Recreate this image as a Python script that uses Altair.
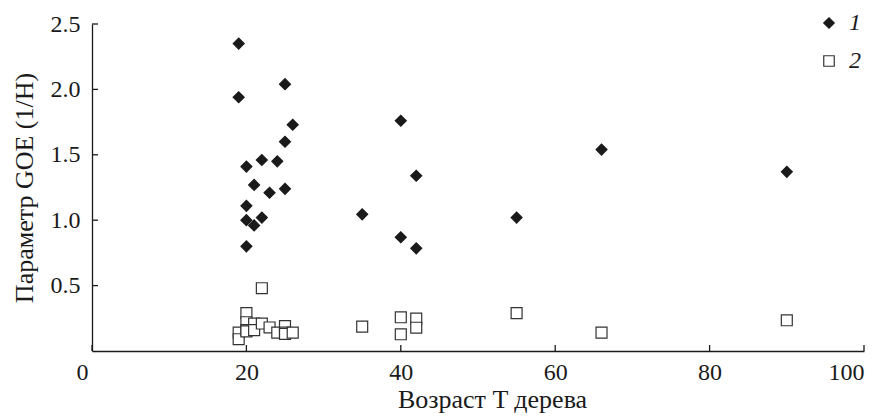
import altair as alt
import pandas as pd

# Series 1 (filled diamonds)
ages1 = [19, 19, 20, 20, 20, 20, 21, 21, 22, 22, 23, 24, 25, 25, 25, 26, 35, 40, 40, 42, 42, 55, 66, 90]
goe1 = [2.35, 1.94, 1.41, 1.11, 1.00, 0.80, 1.27, 0.96, 1.46, 1.02, 1.21, 1.45, 2.04, 1.60, 1.24, 1.73,
        1.045, 1.76, 0.87, 1.34, 0.785, 1.02, 1.54, 1.37]
# Series 2 (open squares)
ages2 = [19, 19, 20, 20, 20, 20, 21, 21, 22, 22, 23, 24, 25, 25, 25, 26, 35, 40, 40, 42, 42, 55, 66, 90]
goe2 = [0.14, 0.09, 0.29, 0.22, 0.16, 0.15, 0.21, 0.16, 0.48, 0.21, 0.18, 0.14, 0.19, 0.14, 0.13, 0.14,
        0.186, 0.258, 0.128, 0.247, 0.178, 0.29, 0.14, 0.235]

series_names = ["1", "2"]
x_ticks = [0, 20, 40, 60, 80, 100]
y_ticks = [0.5, 1.0, 1.5, 2.0, 2.5]

df = pd.DataFrame({
    "age": ages1 + ages2,
    "goe": goe1 + goe2,
    "series": [series_names[0]] * len(ages1) + [series_names[1]] * len(ages2),
})

FONT = "Liberation Serif"
INK = "#1a1a1a"
W, H = 772, 327

xscale = alt.Scale(domain=[0, 100], nice=False, zero=True)
yscale = alt.Scale(domain=[0, 2.5], nice=False, zero=True)

leg = alt.Legend(
    orient="none", legendX=725, legendY=-13, title=None,
    labelFont=FONT, labelFontStyle="italic", labelFontSize=24, labelColor=INK,
    symbolSize=110, symbolStrokeWidth=1.2, rowPadding=14, labelOffset=8,
)

points = alt.Chart(df).mark_point(filled=True, size=120, strokeWidth=1.2, opacity=1).encode(
    x=alt.X("age:Q", scale=xscale,
            axis=alt.Axis(values=x_ticks, title="Возраст T дерева", labelPadding=9, titlePadding=2,
                          format="d", titleX=400,
                          labelOffset=alt.ExprRef("datum.value == 0 ? -16 : 0"))),
    y=alt.Y("goe:Q", scale=yscale,
            axis=alt.Axis(values=y_ticks, title="Параметр GOE (1/H)", format=".1f",
                          labelPadding=12, titlePadding=13)),
    shape=alt.Shape("series:N", scale=alt.Scale(domain=series_names, range=["diamond", "square"]), legend=leg),
    fill=alt.Fill("series:N", scale=alt.Scale(domain=series_names, range=[INK, "#ffffff"]), legend=leg),
    stroke=alt.Stroke("series:N", scale=alt.Scale(domain=series_names, range=[INK, "#333333"]), legend=leg),
)

xt = alt.Chart(pd.DataFrame({"t": x_ticks})).mark_rule(color=INK, strokeWidth=1.3).encode(
    x=alt.X("t:Q", scale=xscale),
    y=alt.value(H), y2=alt.value(H - 6),
)
yt = alt.Chart(pd.DataFrame({"t": y_ticks})).mark_rule(color=INK, strokeWidth=1.3).encode(
    y=alt.Y("t:Q", scale=yscale),
    x=alt.value(0), x2=alt.value(6),
)

chart = alt.layer(points, xt, yt).properties(
    width=W, height=H,
    autosize=alt.AutoSizeParams(type="none"),
    padding={"left": 84, "top": 16, "right": 15, "bottom": 66},
).configure_view(stroke=None).configure_axis(
    grid=False, tickSize=0, domainColor=INK, domainWidth=1.3,
    labelFont=FONT, labelFontSize=24, labelColor=INK,
    titleFont=FONT, titleFontSize=26, titleColor=INK, titleFontWeight="normal",
)

chart.save("out.html", embed_options={"renderer": "svg", "actions": False})
